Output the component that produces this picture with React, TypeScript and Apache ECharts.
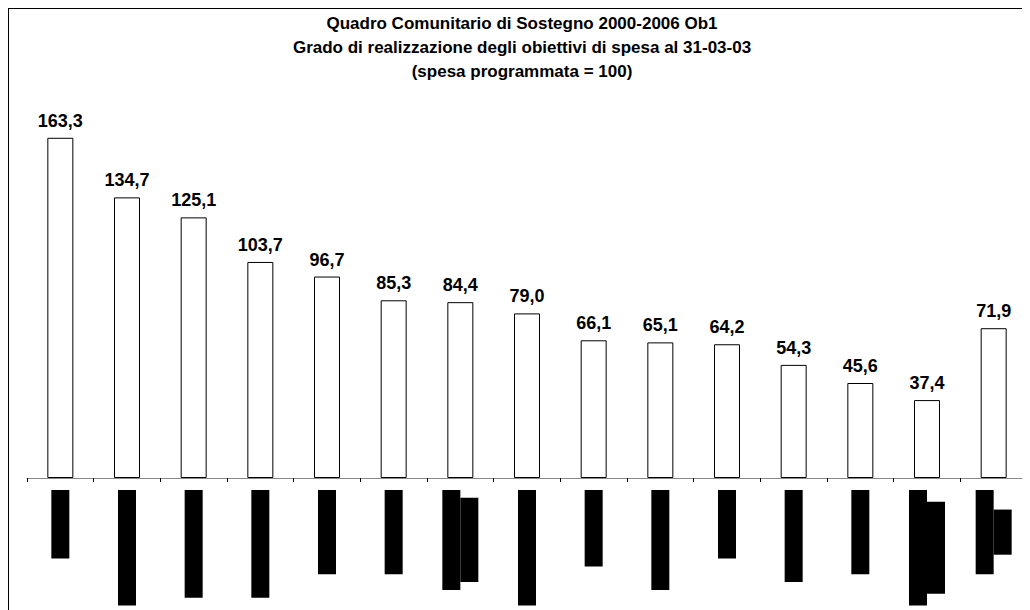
import React, { useEffect, useRef } from "react";
import * as echarts from "echarts";

const titleLines = [
  "Quadro Comunitario di Sostegno 2000-2006 Ob1",
  "Grado di realizzazione degli obiettivi di spesa al 31-03-03",
  "(spesa programmata = 100)",
];

const categories = [
  "Sardegna",
  "POR Basilicata",
  "PON Sicurezza",
  "PON Trasporti",
  "POR Puglia",
  "POR Molise",
  "PON Sviluppo\nimprendit.",
  "Ricerca scient",
  "PON Pesca",
  "POR Campania",
  "Calabria",
  "POR Sicilia",
  "PON Scuola",
  "PON Assistenza\ntecnica AdS",
  "Totale QCS\nOb. 1",
];

const values = [163.3, 134.7, 125.1, 103.7, 96.7, 85.3, 84.4, 79.0, 66.1, 65.1, 64.2, 54.3, 45.6, 37.4, 71.9];

const fmt = (v: number) => v.toFixed(1).replace(".", ",");

export default function App() {
  const ref = useRef<HTMLDivElement>(null);
  useEffect(() => {
    if (!ref.current) return;
    const chart = echarts.init(ref.current, undefined, { renderer: "svg" });
    chart.setOption({
      animation: false,
      backgroundColor: "#fff",
      graphic: [
        {
          type: "text",
          x: 513,
          y: 2,
          style: {
            text: titleLines.join("\n"),
            fill: "#000",
            font: "bold 17px 'Liberation Sans', Arial, sans-serif",
            align: "center",
            verticalAlign: "top",
            lineHeight: 24,
          },
        },
      ],
      grid: { left: 18, width: 1000, top: 94, bottom: 132, containLabel: false },
      xAxis: {
        type: "category",
        data: categories,
        boundaryGap: true,
        axisLine: { show: true, lineStyle: { color: "#888", width: 1 } },
        axisTick: { show: true, length: 4, lineStyle: { color: "#000" } },
        axisLabel: {
          interval: 0,
          rotate: 90,
          margin: 12,
          formatter: (name: string) =>
            name
              .split("\n")
              .map((s) => `{a|${s}}`)
              .join("\n"),
          rich: {
            a: {
              backgroundColor: "#000",
              color: "#000",
              height: 18,
              lineHeight: 18,
              padding: [0, 3],
              fontFamily: "'DejaVu Sans Mono', monospace",
              fontSize: 13,
              align: "center",
            },
          },
        },
      },
      yAxis: {
        type: "value",
        min: 0,
        max: 180,
        show: false,
        splitLine: { show: false },
      },
      series: [
        {
          type: "bar",
          data: values,
          barWidth: 26,
          itemStyle: { color: "#fff", borderColor: "#000", borderWidth: 1 },
          label: {
            show: true,
            position: "top",
            distance: 8,
            formatter: (p: any) => fmt(p.value),
            color: "#000",
            fontSize: 18,
            fontWeight: "bold",
            fontFamily: "'Liberation Sans', Arial, sans-serif",
          },
        },
      ],
    });
    return () => chart.dispose();
  }, []);
  return (
    <div
      style={{
        width: 1022,
        height: 602,
        boxSizing: "border-box",
        borderTop: "1px solid #000",
        borderLeft: "1px solid #000",
        overflow: "hidden",
      }}
    >
      <div ref={ref} style={{ width: 1021, height: 601 }} />
    </div>
  );
}
